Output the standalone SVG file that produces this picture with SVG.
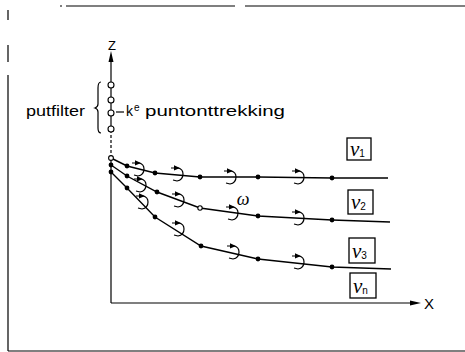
<svg xmlns="http://www.w3.org/2000/svg" width="465" height="352" viewBox="0 0 465 352">
<style>
.ln{stroke:#000;fill:none;stroke-width:1.2}
.cv{stroke:#000;fill:none;stroke-width:1.4}
.dot{fill:#000}
.oc{fill:#fff;stroke:#000;stroke-width:1.1}
.t{font-family:"Liberation Sans",Arial,sans-serif;fill:#000}
.g{font-family:"Liberation Serif","Times New Roman",serif;font-style:italic;fill:#000}
.box{fill:#fff;stroke:#000;stroke-width:1.3}
</style>
<defs>
<g id="rot">
<path d="M-6,-6 L1,-6 Q6,-5 6,0 Q6,6 0,7 L-4,6" class="ln"/>
<path d="M3,-6 L-3,-8.8 L-3,-3.6 Z" class="dot"/>
</g>
</defs>
<rect width="465" height="352" fill="#fff"/>
<g id="frame" class="ln">
<path d="M60,6 H62 M66,6 H235 M245,6 H465"/>
<path d="M8,10 V20 M8,45 V62 M8,75 V351"/>
<path d="M8,351 H465"/>
</g>
<g id="axes">
<path d="M111,303 V158" class="ln"/>
<path d="M111,158 V130" class="ln" stroke-dasharray="3,2"/>
<path d="M111,129 V62" class="ln"/>
<path d="M111,51 L108.5,62 L113.5,62 Z" class="dot"/>
<path d="M111,303 H411" class="ln"/>
<path d="M421,303 L410,300.5 L410,305.5 Z" class="dot"/>
<text x="112" y="50" class="t" font-size="13" text-anchor="middle">Z</text>
<text x="429" y="309" class="t" font-size="15" text-anchor="middle">X</text>
</g>
<g id="putfilter">
<circle cx="111" cy="85" r="3" class="oc"/>
<circle cx="111" cy="100" r="3" class="oc"/>
<circle cx="111" cy="113" r="3" class="oc"/>
<circle cx="111" cy="129" r="3" class="oc"/>
<path d="M101,82 Q98,82 98,88 V104 Q98,107 95,108 Q98,109 98,112 V128 Q98,133 101,133" class="ln"/>
<text x="26" y="116" class="t" font-size="14" textLength="59" lengthAdjust="spacingAndGlyphs">putfilter</text>
<path d="M116,112 H124" class="ln"/>
<text x="126" y="116" class="t" font-size="14">k</text>
<text x="134" y="111" class="t" font-size="10">e</text>
<text x="145" y="116" class="t" font-size="14" textLength="140" lengthAdjust="spacingAndGlyphs">puntonttrekking</text>
</g>
<g id="connectors">
<polyline class="cv" points="111,158 127,166 155,173 200,177 258,177 332,178 388,178"/>
<polyline class="cv" points="111,165 127,176 157,192 200,208 258,216 332,220 390,222"/>
<polyline class="cv" points="111,172 127,188 155,217 201,246 258,259 332,267 391,269"/>
</g>
<g id="dots">
<circle cx="127" cy="166" r="2.4" class="dot"/>
<circle cx="155" cy="173" r="2.4" class="dot"/>
<circle cx="200" cy="177" r="2.4" class="dot"/>
<circle cx="258" cy="177" r="2.4" class="dot"/>
<circle cx="332" cy="178" r="2.4" class="dot"/>
<circle cx="111" cy="165" r="2.4" class="dot"/>
<circle cx="127" cy="176" r="2.4" class="dot"/>
<circle cx="157" cy="192" r="2.4" class="dot"/>
<circle cx="258" cy="216" r="2.4" class="dot"/>
<circle cx="332" cy="220" r="2.4" class="dot"/>
<circle cx="111" cy="172" r="2.4" class="dot"/>
<circle cx="127" cy="188" r="2.4" class="dot"/>
<circle cx="155" cy="217" r="2.4" class="dot"/>
<circle cx="201" cy="246" r="2.4" class="dot"/>
<circle cx="258" cy="259" r="2.4" class="dot"/>
<circle cx="332" cy="267" r="2.4" class="dot"/>
<circle cx="111" cy="158" r="2.4" class="oc"/>
<circle cx="200" cy="208" r="2.2" class="oc"/>
</g>
<g id="rotations">
<use href="#rot" transform="translate(138,169)"/>
<use href="#rot" transform="translate(177,174)"/>
<use href="#rot" transform="translate(230,177)"/>
<use href="#rot" transform="translate(298,177)"/>
<use href="#rot" transform="translate(140,185)"/>
<use href="#rot" transform="translate(178,200)"/>
<use href="#rot" transform="translate(232,213)"/>
<use href="#rot" transform="translate(298,218)"/>
<use href="#rot" transform="translate(142,202)"/>
<use href="#rot" transform="translate(178,229)"/>
<use href="#rot" transform="translate(233,252)"/>
<use href="#rot" transform="translate(298,262)"/>
<text x="243" y="205" class="g" font-size="18" text-anchor="middle">ω</text>
</g>
<g id="nu1">
<rect x="347" y="138" width="24" height="22" class="box"/>
<text x="350" y="156" class="g" font-size="21">ν<tspan class="t" font-style="normal" font-size="10" dy="1">1</tspan></text>
</g>
<g id="nu2">
<rect x="348" y="190" width="25" height="24" class="box"/>
<text x="351" y="209" class="g" font-size="21">ν<tspan class="t" font-style="normal" font-size="10" dy="1">2</tspan></text>
</g>
<g id="nu3">
<rect x="349" y="238" width="26" height="25" class="box"/>
<text x="352" y="258" class="g" font-size="21">ν<tspan class="t" font-style="normal" font-size="10" dy="1">3</tspan></text>
</g>
<g id="nun">
<rect x="350" y="273" width="26" height="25" class="box"/>
<text x="353" y="293" class="g" font-size="21">ν<tspan class="t" font-style="normal" font-size="10" dy="1">n</tspan></text>
</g>
</svg>
